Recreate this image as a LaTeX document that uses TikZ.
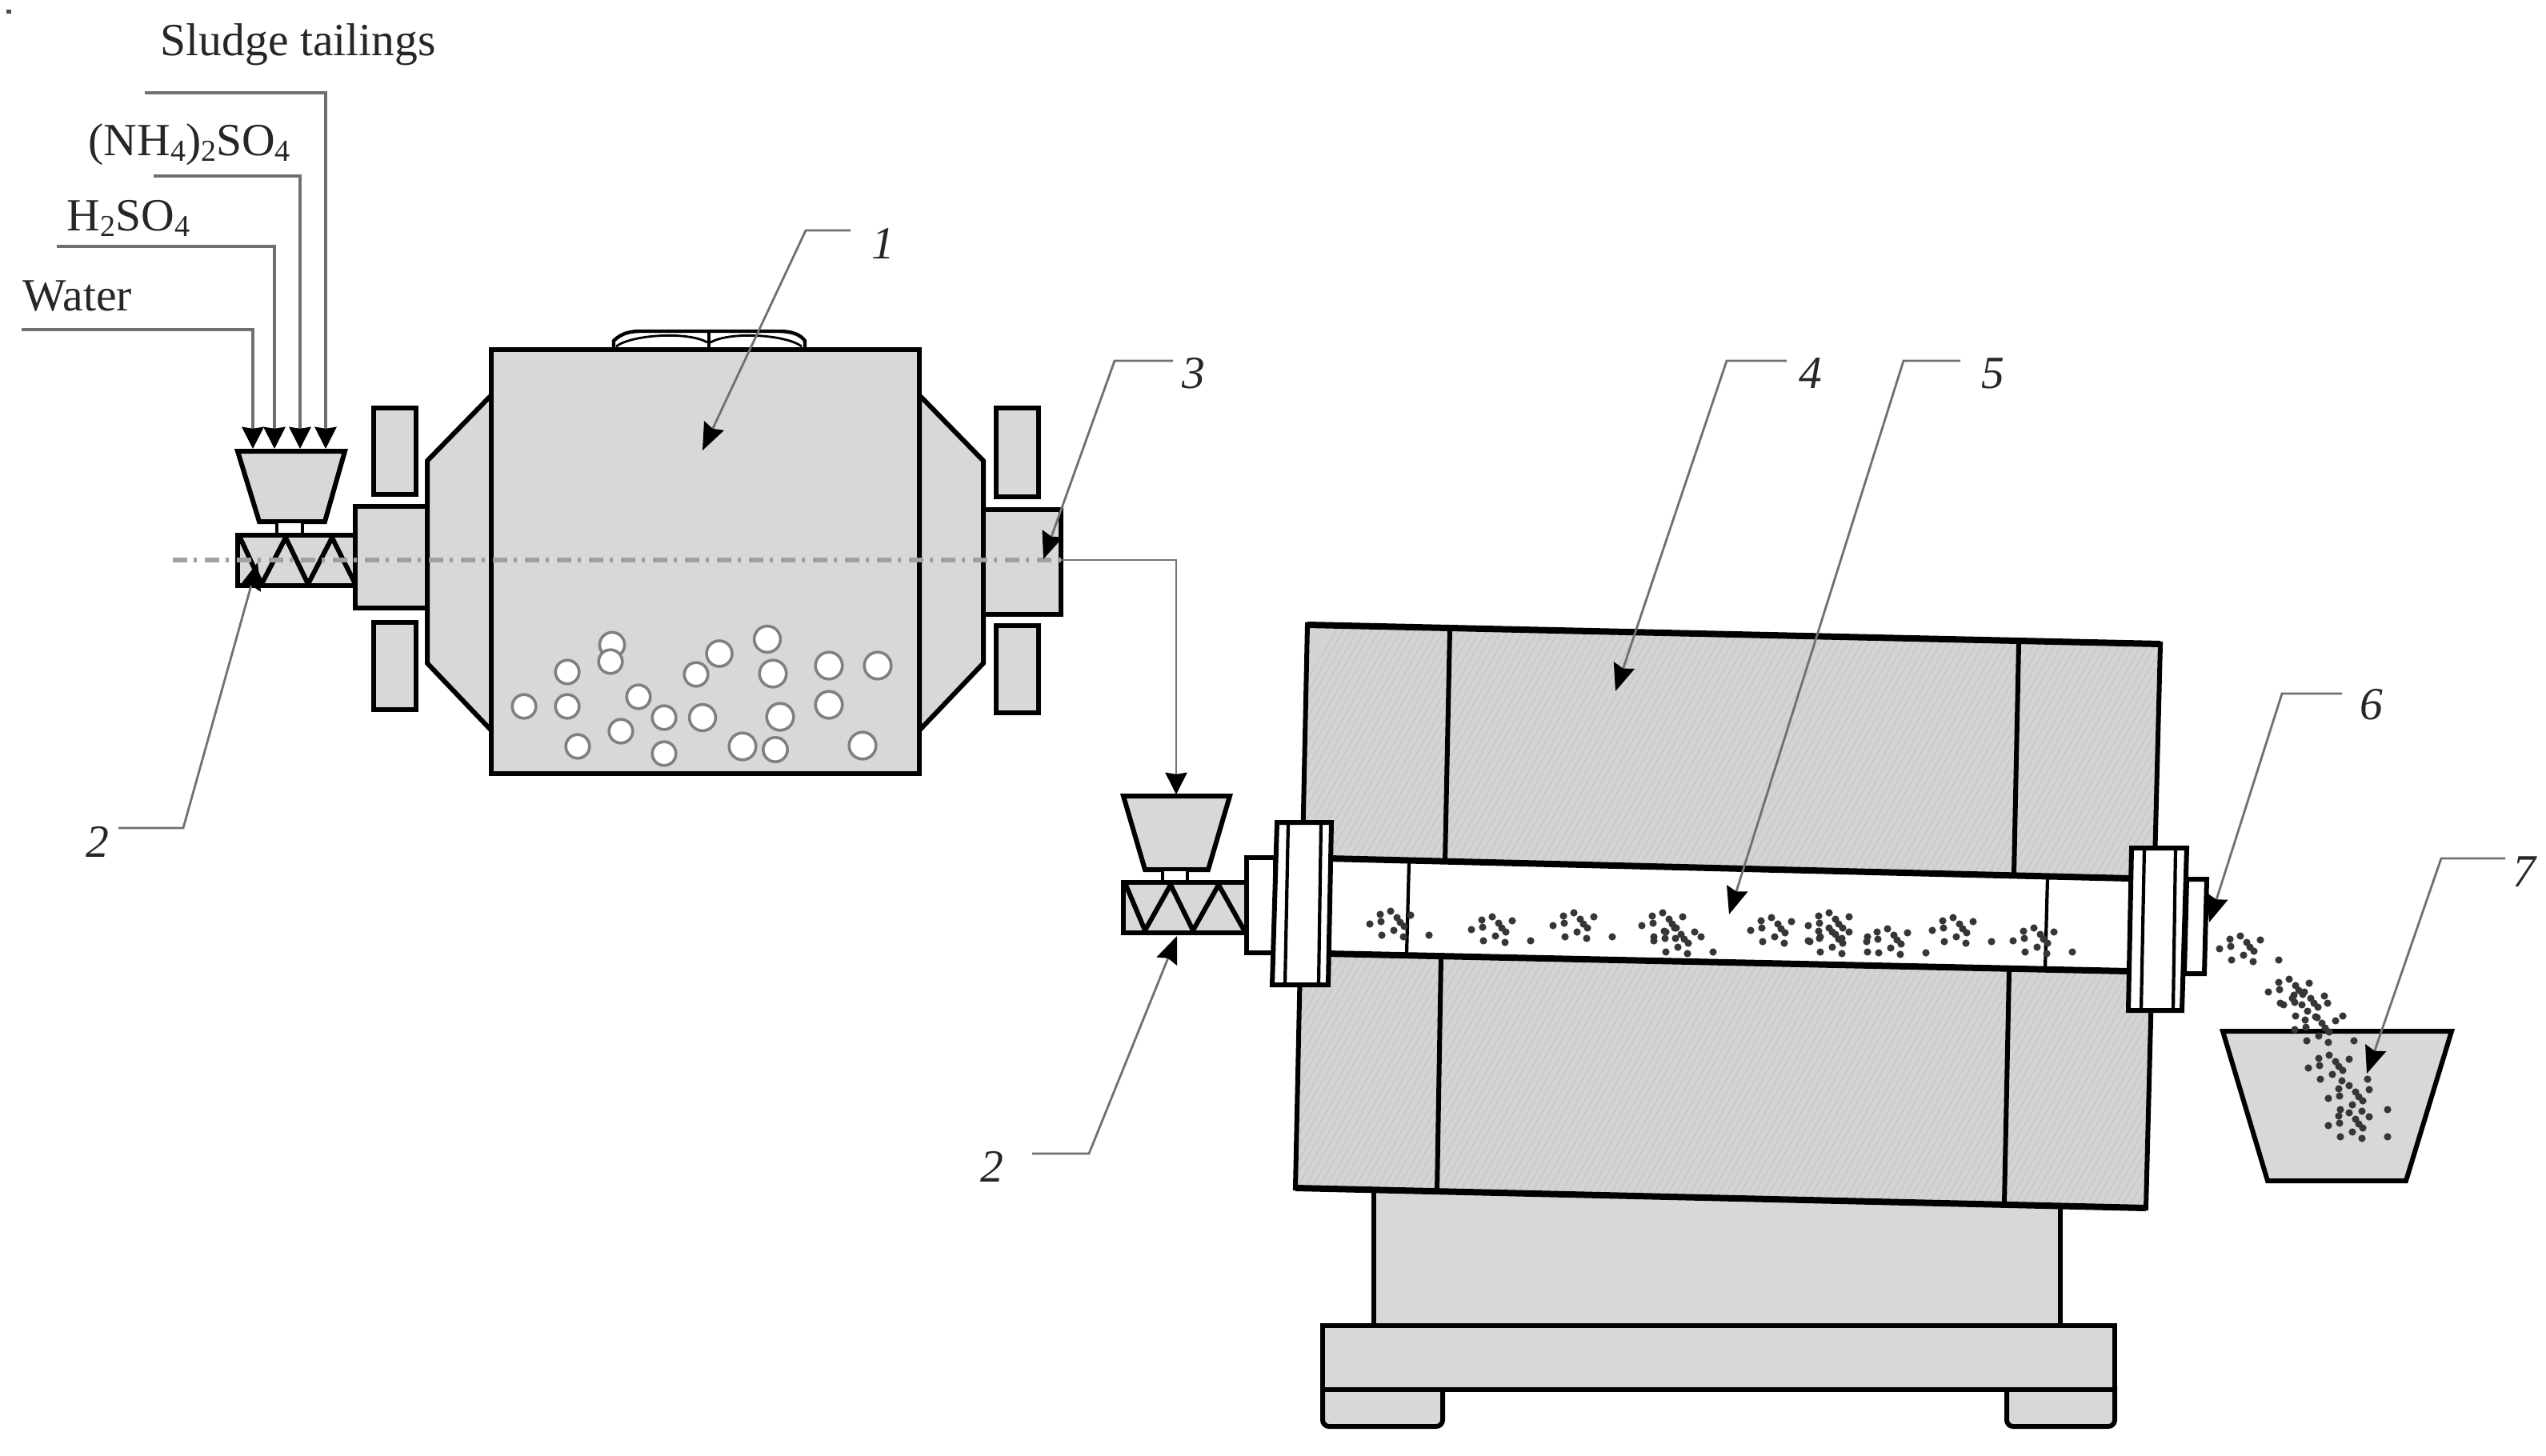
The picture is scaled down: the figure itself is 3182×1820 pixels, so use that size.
\documentclass[tikz,border=0pt]{standalone}
\usepackage{fontspec}
\setmainfont{Liberation Serif}
\usetikzlibrary{arrows.meta}
\definecolor{bodyfill}{HTML}{D8D8D8}
\definecolor{hotfill}{HTML}{D4D4D4}
\definecolor{hatchline}{HTML}{CACACA}
\definecolor{leadcol}{HTML}{707070}
\definecolor{axiscol}{HTML}{A0A0A0}
\definecolor{dotcol}{HTML}{363636}
\definecolor{txtcol}{HTML}{262626}
\newcommand\subsc[1]{\raisebox{-0.28ex}{\fontsize{9.5}{10}\selectfont #1}}
\newcommand\stampdots[2]{%
  \foreach \p/\q in {0/0,13/-12,14/-3,26/-16,51/-11,34/-8,38/-2,43/3,30/8,15/14,42/16,74/14}{%
    \fill[dotcol] ({#1+\p},{#2+\q}) circle[radius=1.15pt];}}
\tikzset{
  x=0.25pt,y=-0.25pt,
  solid part/.style={draw=black,line width=1.5pt,line join=miter},
  grey part/.style={solid part,fill=bodyfill},
  white part/.style={solid part,fill=white},
  thin part/.style={draw=black,line width=1.05pt},
  thick part/.style={draw=black,line width=2pt},
  lead/.style={draw=leadcol,line width=0.7pt,-{Stealth[length=8.5pt,width=6.8pt,inset=1pt,color=black]}},
  feed/.style={draw=leadcol,line width=0.85pt,-{Stealth[length=6.8pt,width=6.8pt,inset=0.5pt,color=black]}},
  label/.style={inner sep=0pt,text=txtcol,font=\fontsize{14.4}{16}\selectfont,anchor=base west},
  num/.style={inner sep=0pt,text=txtcol,font=\fontsize{14.4}{16}\selectfont\itshape,anchor=center},
  ball/.style={draw=black!50,fill=white,line width=0.9pt},
  axis/.style={draw=axiscol,line width=1.6pt,dash pattern=on 4.6pt off 2pt on 0.9pt off 2.5pt}
}
\begin{document}
\begin{tikzpicture}
\useasboundingbox (0,0) rectangle (3182,1820);
\fill[white] (0,0) rectangle (3182,1820);
\fill[black!70] (8,12) rectangle (14,17);

% ---------- mixer drum ----------
\path[grey part] (614,494) -- (534,576) -- (534,829) -- (614,913) -- cycle;
\path[grey part] (1149,494) -- (1229,576) -- (1229,829) -- (1149,913) -- cycle;
\path[draw=black,line width=1.1pt,fill=white] (767,437) -- (767,426) .. controls (775,418) and (785,414) .. (800,414) -- (972,414) .. controls (990,414) and (1000,418) .. (1006,426) -- (1006,437) -- cycle;
\draw[draw=black,line width=0.7pt] (770,433) .. controls (790,418) and (860,414) .. (884,428);
\draw[draw=black,line width=0.7pt] (888,428) .. controls (912,414) and (982,418) .. (1002,433);
\draw[thin part] (886,414) -- (886,437);
\path[grey part] (614,437) rectangle (1149,967);
\foreach \cx/\cy/\r in {765/806/3.9,763/827/3.7,709/840/3.7,655/883/3.7,709/883/3.7,798/871/3.7,776/914/3.7,722/933/3.7,830/897/3.7,830/942/3.7,878/897/4.1,870/843/3.7,899/817/4.0,959/799/4.1,966/842/4.2,1036/832/4.2,1097/832/4.2,1036/881/4.2,975/896/4.2,928/933/4.2,969/937/3.8,1078/932/4.2}
  \path[ball] (\cx,\cy) circle[radius=\r pt];
\path[grey part] (444,633) rectangle (534,760);
\path[grey part] (1229,637) rectangle (1326,768);
\foreach \bx/\by/\ey in {467/510/618,467/778/887,1245/510/621,1245/782/891}{
  \path[grey part,line width=1.3pt] (\bx,\by) rectangle ({\bx+53},\ey);}

% ---------- first hopper and screw ----------
\path[grey part] (297,564) -- (431,564) -- (406,652) -- (324,652) -- cycle;
\path[white part,line width=1pt] (346,652) rectangle (378,669);
\path[grey part] (297,669) rectangle (444,732);
\draw[solid part,line join=round] (300,672) -- (327,730) -- (357,672) -- (385,730) -- (415,672) -- (444,730);

% ---------- second hopper and screw ----------
\path[grey part] (1404,995) -- (1537,995) -- (1510,1087) -- (1431,1087) -- cycle;
\path[white part,line width=1pt] (1453,1087) rectangle (1484,1103);
\path[grey part] (1404,1103) rectangle (1558,1166);
\draw[solid part,line join=round] (1407,1106) -- (1431,1163) -- (1463,1106) -- (1491,1163) -- (1523,1106) -- (1555,1163);

% ---------- furnace ----------
\path[grey part] (1717,1480) rectangle (2575,1660);
\path[grey part,rounded corners=2pt] (1653,1725) -- (1653,1783) -- (1803,1783) -- (1803,1725) -- cycle;
\path[grey part,rounded corners=2pt] (2508,1725) -- (2508,1783) -- (2643,1783) -- (2643,1725) -- cycle;
\path[grey part] (1653,1657) rectangle (2643,1737);
\fill[hotfill] (1634,781) -- (2700,805) -- (2682,1510) -- (1619,1485) -- cycle;
\begin{scope}
  \clip (1634,781) -- (2700,805) -- (2682,1510) -- (1619,1485) -- cycle;
  \foreach \i in {0,9,...,1500}
    \draw[hatchline,line width=0.45pt] ({1250+\i},1520) -- ({1250+\i+430},770);
\end{scope}
\draw[solid part] (1634,781) -- (2700,805) -- (2682,1510) -- (1619,1485) -- cycle;
\draw[thick part] (1634,781) -- (2700,805);
\draw[thick part] (1619,1485) -- (2682,1510);
\draw[solid part] (1812,787) -- (1806,1077) (1801,1197) -- (1796,1490);
\draw[solid part] (2523,805) -- (2517,1093) (2511,1214) -- (2505,1505);
% tube
\fill[white] (1660,1073) -- (2662,1098) -- (2660,1214) -- (1658,1192) -- cycle;
\draw[thick part] (1660,1073) -- (2662,1098) (1658,1192) -- (2660,1214);
\draw[thin part] (1761,1078) -- (1758,1193) (2559,1097) -- (2556,1212);
\stampdots{1712}{1155}
\stampdots{1839}{1162}
\stampdots{1941}{1157}
\stampdots{2052}{1157}
\stampdots{2067}{1176}
\stampdots{2188}{1163}
\stampdots{2260}{1157}
\stampdots{2260}{1176}
\stampdots{2333}{1177}
\stampdots{2415}{1163}
\stampdots{2516}{1176}
% collars and flanges
\path[white part] (1558,1072) rectangle (1594,1191);
\path[white part] (2733,1099) -- (2758,1099) -- (2755,1217) -- (2730,1217) -- cycle;
\path[white part] (1596,1028) -- (1664,1028) -- (1660,1231) -- (1590,1231) -- cycle;
\draw[thin part] (1610,1028) -- (1606,1231) (1651,1028) -- (1648,1231);
\path[white part] (2664,1060) -- (2733,1060) -- (2727,1263) -- (2660,1263) -- cycle;
\draw[thin part] (2680,1060) -- (2676,1263) (2719,1060) -- (2716,1263);

% ---------- receiving bin and falling product ----------
\path[grey part] (2778,1289) -- (3064,1289) -- (3007,1476) -- (2834,1476) -- cycle;
\stampdots{2774}{1186}
\stampdots{2835}{1240}
\stampdots{2854}{1256}
\stampdots{2868}{1287}
\stampdots{2885}{1335}
\stampdots{2910}{1373}
\stampdots{2910}{1407}

% ---------- axis ----------
\coordinate (axL) at (216,700);
\coordinate (axR) at (1326,700);
\coordinate (axT) at (1470,700);
\coordinate (hop) at (1470,993);
\draw[axis] (axL) -- (axR);
\draw[feed,line width=0.7pt] (axR) -- (axT) -- (hop);

% ---------- feeds and labels ----------
\node[label] (sludge) at (200,69) {Sludge tailings};
\node[label] (ammon) at (110,194) {(NH\subsc{4})\subsc{2}SO\subsc{4}};
\node[label] (acid) at (83,288) {H\subsc{2}SO\subsc{4}};
\node[label] (water) at (28,388) {Water};
\coordinate (sA) at (181,116); \coordinate (sB) at (407,116); \coordinate (sC) at (407,561);
\coordinate (aA) at (192,220); \coordinate (aB) at (375,220); \coordinate (aC) at (375,561);
\coordinate (hA) at (71,308);  \coordinate (hB) at (343,308); \coordinate (hC) at (343,561);
\coordinate (wA) at (27,412);  \coordinate (wB) at (316,412); \coordinate (wC) at (316,561);
\draw[feed] (sA) -- (sB) -- (sC);
\draw[feed] (aA) -- (aB) -- (aC);
\draw[feed] (hA) -- (hB) -- (hC);
\draw[feed] (wA) -- (wB) -- (wC);

% ---------- numbered leaders ----------
\node[num] (n1) at (1104,304) {1};
\node[num] (n2a) at (122,1052) {2};
\node[num] (n2b) at (1240,1458) {2};
\node[num] (n3) at (1492,467) {3};
\node[num] (n4) at (2263,467) {4};
\node[num] (n5) at (2491,467) {5};
\node[num] (n6) at (2964,881) {6};
\node[num] (n7) at (3155,1090) {7};
\coordinate (l1a) at (1063,288); \coordinate (l1b) at (1007,288); \coordinate (l1c) at (878,563);
\coordinate (l2a) at (148,1035); \coordinate (l2b) at (229,1035); \coordinate (l2c) at (322,703);
\coordinate (l2d) at (1290,1442); \coordinate (l2e) at (1361,1442); \coordinate (l2f) at (1471,1170);
\coordinate (l3a) at (1466,451); \coordinate (l3b) at (1393,451); \coordinate (l3c) at (1304,699);
\coordinate (l4a) at (2233,451); \coordinate (l4b) at (2158,451); \coordinate (l4c) at (2019,864);
\coordinate (l5a) at (2450,451); \coordinate (l5b) at (2379,451); \coordinate (l5c) at (2161,1143);
\coordinate (l6a) at (2927,867); \coordinate (l6b) at (2852,867); \coordinate (l6c) at (2761,1153);
\coordinate (l7a) at (3131,1073); \coordinate (l7b) at (3051,1073); \coordinate (l7c) at (2958,1342);
\draw[lead] (l1a) -- (l1b) -- (l1c);
\draw[lead] (l2a) -- (l2b) -- (l2c);
\draw[lead] (l2d) -- (l2e) -- (l2f);
\draw[lead] (l3a) -- (l3b) -- (l3c);
\draw[lead] (l4a) -- (l4b) -- (l4c);
\draw[lead] (l5a) -- (l5b) -- (l5c);
\draw[lead] (l6a) -- (l6b) -- (l6c);
\draw[lead] (l7a) -- (l7b) -- (l7c);
\end{tikzpicture}
\end{document}
